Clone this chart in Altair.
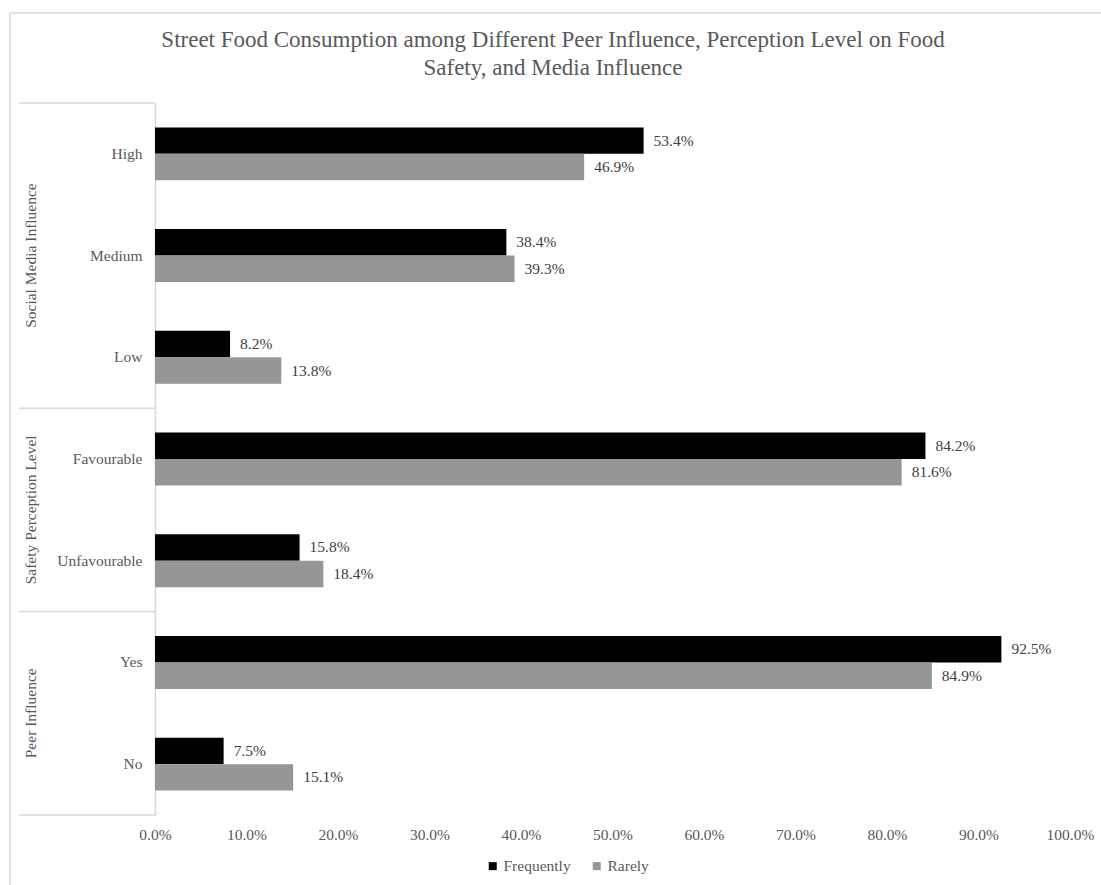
import altair as alt
import pandas as pd

categories = ["High", "Medium", "Low", "Favourable", "Unfavourable", "Yes", "No"]
groups = ["Social Media Influence", "Social Media Influence", "Social Media Influence",
          "Safety Perception Level", "Safety Perception Level",
          "Peer Influence", "Peer Influence"]
series = ["Frequently", "Rarely"]
frequently = [53.4, 38.4, 8.2, 84.2, 15.8, 92.5, 7.5]
rarely = [46.9, 39.3, 13.8, 81.6, 18.4, 84.9, 15.1]
tick_values = [0, 0.1, 0.2, 0.3, 0.4, 0.5, 0.6, 0.7, 0.8, 0.9, 1.0]
title_lines = ["Street Food Consumption among Different Peer Influence, Perception Level on Food",
               "Safety, and Media Influence"]

rows = []
for c, g, f, r in zip(categories, groups, frequently, rarely):
    rows.append({"category": c, "group": g, "series": "Frequently", "value": f / 100, "label": f"{f:.1f}%"})
    rows.append({"category": c, "group": g, "series": "Rarely", "value": r / 100, "label": f"{r:.1f}%"})
df = pd.DataFrame(rows)

FONT = "Liberation Serif"
GREY = "#595959"
LINE = "#d9d9d9"
FS = 15.5
W, H = 915, 712

y_scale = alt.Scale(domain=categories, paddingInner=0, paddingOuter=0)
yoff_scale = alt.Scale(domain=series, paddingInner=0, paddingOuter=0.923)
y_axis = alt.Axis(title=None, ticks=False, domainColor=LINE, domainWidth=1.5,
                  labelFontSize=FS, labelFont=FONT, labelColor=GREY, labelPadding=13)


def ycat(band=None):
    if band is None:
        return alt.Y("category:N", sort=categories, scale=y_scale, axis=y_axis)
    return alt.Y("category:N", sort=categories, scale=y_scale, axis=y_axis, bandPosition=band)


bars = alt.Chart(df).mark_bar().encode(
    x=alt.X("value:Q", scale=alt.Scale(domain=[0, 1]),
            axis=alt.Axis(format=".1%", values=tick_values, grid=False, domain=False, ticks=False,
                          labelFontSize=FS, labelFont=FONT, labelColor=GREY, labelPadding=12,
                          labelFlush=False, title=None)),
    y=ycat(),
    yOffset=alt.YOffset("series:N", sort=series, scale=yoff_scale),
    color=alt.Color("series:N", sort=series,
                    scale=alt.Scale(domain=series, range=["#000000", "#969696"]),
                    legend=alt.Legend(title=None, orient="none", legendX=330, legendY=755,
                                      direction="horizontal", symbolType="square", symbolSize=64,
                                      symbolStrokeWidth=0, labelFontSize=FS, labelFont=FONT,
                                      labelColor=GREY, columnPadding=18, labelOffset=3)),
)

labels = alt.Chart(df).mark_text(align="left", baseline="middle", dx=10, fontSize=FS,
                                 font=FONT, color="#404040").encode(
    x=alt.X("value:Q"),
    y=ycat(),
    yOffset=alt.YOffset("series:N", sort=series),
    text="label:N",
)

sep_top = pd.DataFrame({"category": ["High", "Favourable", "Yes"]})
sep_bot = pd.DataFrame({"category": ["No"]})
seps_a = alt.Chart(sep_top).mark_rule(color=LINE, strokeWidth=1.5).encode(
    x=alt.value(-136), x2=alt.value(0), y=ycat(0),
)
seps_b = alt.Chart(sep_bot).mark_rule(color=LINE, strokeWidth=1.5).encode(
    x=alt.value(-136), x2=alt.value(0), y=ycat(1),
)

grp_mid = pd.DataFrame({"category": ["Medium"], "group": ["Social Media Influence"]})
grp_edge = pd.DataFrame({"category": ["Unfavourable", "No"],
                         "group": ["Safety Perception Level", "Peer Influence"]})
glab_a = alt.Chart(grp_mid).mark_text(angle=270, align="center", baseline="middle",
                                      fontSize=FS, font=FONT, color=GREY).encode(
    x=alt.value(-124), y=ycat(0.5), text="group:N",
)
glab_b = alt.Chart(grp_edge).mark_text(angle=270, align="center", baseline="middle",
                                       fontSize=FS, font=FONT, color=GREY).encode(
    x=alt.value(-124), y=ycat(0), text="group:N",
)

border = alt.Chart(sep_bot).mark_rect(fill="white", fillOpacity=0, stroke=LINE, strokeWidth=1.5).encode(
    x=alt.value(-145), x2=alt.value(1000), y=alt.value(-90), y2=alt.value(900),
)

title = alt.Chart(sep_bot).mark_text(align="center", baseline="alphabetic", fontSize=23, font=FONT,
                                     color=GREY, lineHeight=28).encode(
    x=alt.value(398), y=alt.value(-56), text=alt.value(title_lines),
)

chart = alt.layer(border, seps_a, seps_b, glab_a, glab_b, bars, labels, title).properties(
    width=W, height=H,
    padding={"left": 155, "top": 103, "right": 31, "bottom": 70},
    autosize=alt.AutoSizeParams(type="none"),
    background="white",
).configure_view(stroke=None)

chart.save("out.html", embed_options={"renderer": "svg", "actions": False})
